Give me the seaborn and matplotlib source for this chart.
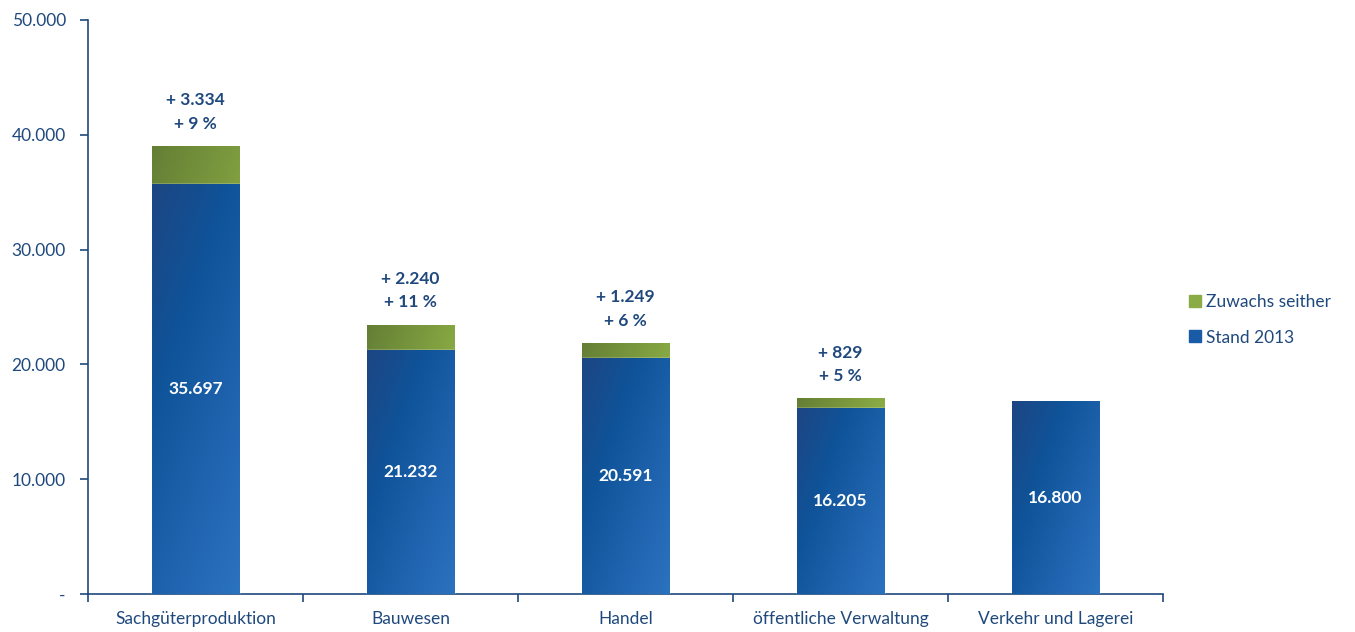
import numpy as np
import pandas as pd
import matplotlib
matplotlib.use("Agg")
import matplotlib.pyplot as plt
from matplotlib.colors import LinearSegmentedColormap
from matplotlib.lines import Line2D
from matplotlib.ticker import FuncFormatter, FixedLocator
import seaborn as sns

categories = ["Sachgüterproduktion", "Bauwesen", "Handel",
              "öffentliche Verwaltung", "Verkehr und Lagerei"]
stand_2013 = [35697, 21232, 20591, 16205, 16800]
zuwachs = [3334, 2240, 1249, 829, 0]
zuwachs_pct = [9, 11, 6, 5, None]
y_ticks = [0, 10000, 20000, 30000, 40000, 50000]

TEXT = "#1f497d"
BLUE = "#1a5ba8"
GREEN = "#8aab46"

sns.set_theme(style="white")
plt.rcParams["font.family"] = ["Lato", "DejaVu Sans"]

df = pd.DataFrame({
    "Kategorie": categories,
    "Stand": stand_2013,
    "Gesamt": [s + z for s, z in zip(stand_2013, zuwachs)],
})

fig = plt.figure(figsize=(13.55, 6.32), dpi=100)
ax = fig.add_axes([88 / 1355, 38 / 632, 1075 / 1355, 574 / 632])

sns.barplot(data=df, x="Kategorie", y="Gesamt", color=GREEN, width=0.405,
            saturation=1, ax=ax, zorder=2)
sns.barplot(data=df, x="Kategorie", y="Stand", color=BLUE, width=0.405,
            saturation=1, ax=ax, zorder=3)

n = len(categories)
green_patches = ax.patches[:n]
blue_patches = ax.patches[n:2 * n]

blue_cmap = LinearSegmentedColormap.from_list(
    "blau", ["#1d4683", "#0f5399", "#1f63ae", "#2b72bf"])
green_cmap = LinearSegmentedColormap.from_list(
    "gruen", ["#647f35", "#86a743", "#a3c456"])

def gradient_fill(patch, cmap, z):
    x0, y0 = patch.get_x(), patch.get_y()
    w, h = patch.get_width(), patch.get_height()
    if h <= 0:
        return
    gx = np.linspace(0, 1, 60)
    gy = np.linspace(0, 1, 200)
    X, Y = np.meshgrid(gx, gy)
    # diagonal shading: darker top-left, lighter bottom-right
    hpx = h / 50000 * 574
    wpx = 87.0
    G = (X * wpx + (1 - Y) * hpx * 0.35) / (wpx + hpx * 0.35)
    im = ax.imshow(G, cmap=cmap, extent=(x0, x0 + w, y0 + h, y0),
                   aspect="auto", zorder=z, interpolation="bilinear",
                   vmin=0, vmax=1)
    im.set_clip_path(patch)

for p in green_patches:
    gradient_fill(p, green_cmap, 2.5)
for p in blue_patches:
    gradient_fill(p, blue_cmap, 3.5)

ax.set_xlim(-0.5, n - 0.5)
ax.set_ylim(0, 50000)

# value labels
for i, (s, z, pc) in enumerate(zip(stand_2013, zuwachs, zuwachs_pct)):
    ax.text(i, s / 2, f"{s:,}".replace(",", "."), ha="center", va="center",
            color="white", fontsize=12.5, fontweight="bold", zorder=5)
    if z > 0:
        top = s + z
        ax.annotate(f"+ {z:,}".replace(",", "."), (i, top), xytext=(0, 33),
                    textcoords="offset points", ha="center", va="center",
                    color=TEXT, fontsize=12.5, fontweight="bold")
        ax.annotate(f"+ {pc} %", (i, top), xytext=(0, 16),
                    textcoords="offset points", ha="center", va="center",
                    color=TEXT, fontsize=12.5, fontweight="bold")

# axes styling
for side in ["top", "right"]:
    ax.spines[side].set_visible(False)
for side in ["left", "bottom"]:
    ax.spines[side].set_color(TEXT)
    ax.spines[side].set_linewidth(1.2)

ax.yaxis.set_major_locator(FixedLocator(y_ticks))
ax.yaxis.set_major_formatter(FuncFormatter(
    lambda v, _: "-" if v == 0 else f"{int(v):,}".replace(",", ".")))
ax.tick_params(axis="y", direction="out", length=6, width=1.2, color=TEXT,
               labelcolor=TEXT, labelsize=12.5, pad=10, left=True)
ax.tick_params(axis="x", which="major", length=0, labelcolor=TEXT,
               labelsize=12.5, pad=12)
ax.set_xticks(np.arange(-0.5, n, 1.0), minor=True)
ax.tick_params(axis="x", which="minor", direction="out", length=6,
               width=1.2, color=TEXT, bottom=True)
ax.set_xlabel("")
ax.set_ylabel("")

handles = [
    Line2D([], [], marker="s", linestyle="", markersize=9,
           markerfacecolor=GREEN, markeredgecolor=GREEN, label="Zuwachs seither"),
    Line2D([], [], marker="s", linestyle="", markersize=9,
           markerfacecolor=BLUE, markeredgecolor=BLUE, label="Stand 2013"),
]
leg = fig.legend(handles=handles, loc="center left",
                 bbox_to_anchor=(1182 / 1355, 1 - 320 / 632), frameon=False,
                 fontsize=12.5, handlelength=0.7, handletextpad=0.3,
                 labelspacing=1.1, borderaxespad=0)
for t in leg.get_texts():
    t.set_color(TEXT)

fig.savefig("out.png", dpi=100)
